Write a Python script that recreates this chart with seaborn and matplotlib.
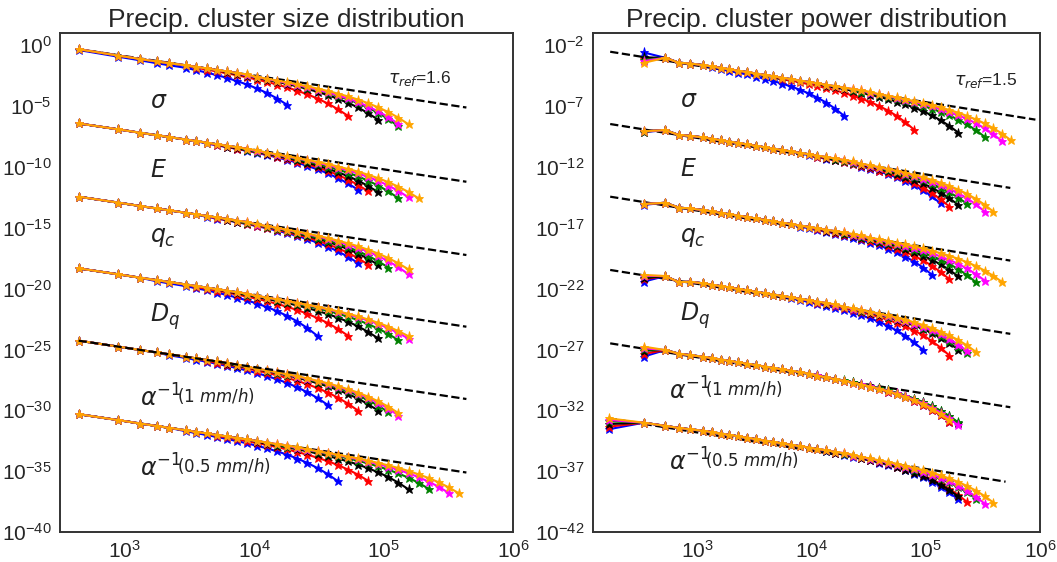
import numpy as np
import pandas as pd
import matplotlib
matplotlib.use("Agg")
import matplotlib.pyplot as plt
import seaborn as sns
from matplotlib.ticker import FixedLocator, FuncFormatter, NullLocator

sns.set_style("white")
plt.rcParams["font.family"] = ["Liberation Sans", "DejaVu Sans"]
plt.rcParams["mathtext.fontset"] = "dejavusans"

# ---------------- data ----------------
colors = ["blue", "red", "black", "green", "magenta", "orange"]
tau_size = 1.6
tau_power = 1.5

# cluster size bins (x of left panel)
size_bins = [440, 880, 1320, 1760, 2200, 2990, 3580, 4290, 5130, 6140, 7350, 8790,
             10500, 12600, 15100, 18000, 21600, 25800, 30900, 37000, 44300, 53000,
             63400, 75900, 90800, 109000, 130000, 156000, 186000, 223000, 267000,
             319000, 382000]
# cluster power bins (x of right panel); a05 group has one extra leading bin
power_bins = [342, 528, 692, 873, 1130, 1350, 1610, 1920, 2290, 2740, 3270, 3900,
              4660, 5560, 6640, 7930, 9460, 11300, 13500, 16100, 19200, 23000, 27400,
              32700, 39100, 46700, 55700, 66500, 79400, 94800, 113000, 135000, 161000,
              193000, 230000, 275000, 328000, 392000, 468000, 558000]
power_bin_a05_first = 169

# ---- left panel: log10 of common body of each group ----
L_body_sigma = [-0.33, -0.85, -1.14, -1.34, -1.48, -1.66, -1.79, -1.91, -2.04, -2.16, -2.29, -2.41, -2.54, -2.66,
                -2.79, -2.91, -3.04, -3.16, -3.29, -3.41, -3.54, -3.66, -3.78, -3.91, -4.03, -4.16, -4.28, -4.41]
L_body_E = [-6.43, -6.91, -7.20, -7.40, -7.55, -7.76, -7.89, -8.01, -8.14, -8.26, -8.39, -8.51, -8.64, -8.76,
            -8.89, -9.01, -9.14, -9.26, -9.39, -9.51, -9.64, -9.76, -9.88, -10.01, -10.13, -10.26, -10.38, -10.51,
            -10.63]
L_body_qc = [-12.45, -12.93, -13.22, -13.42, -13.57, -13.78, -13.91, -14.03, -14.16, -14.28, -14.41, -14.53,
             -14.66, -14.78, -14.91, -15.03, -15.16, -15.28, -15.41, -15.53, -15.66, -15.78, -15.90, -16.03,
             -16.15, -16.28, -16.40, -16.53]
L_body_Dq = [-18.34, -18.82, -19.11, -19.31, -19.46, -19.67, -19.80, -19.92, -20.05, -20.17, -20.30, -20.42,
             -20.55, -20.67, -20.80, -20.92, -21.05, -21.17, -21.30, -21.42, -21.55, -21.67, -21.79, -21.92,
             -22.04, -22.17, -22.29, -22.42]
L_body_a1 = [-24.28, -24.76, -25.05, -25.25, -25.40, -25.61, -25.74, -25.86, -25.99, -26.11, -26.24, -26.36,
             -26.49, -26.61, -26.74, -26.86, -26.99, -27.11, -27.24, -27.36, -27.49, -27.61, -27.73, -27.86,
             -27.98, -28.11, -28.23]
L_body_a05 = [-30.32, -30.80, -31.09, -31.29, -31.44, -31.65, -31.78, -31.90, -32.03, -32.15, -32.28, -32.40,
              -32.53, -32.65, -32.78, -32.90, -33.03, -33.15, -33.28, -33.40, -33.53, -33.65, -33.77, -33.90,
              -34.02, -34.15, -34.27, -34.40, -34.52, -34.65, -34.77, -34.90, -35.02]

# last bin index of each colour (blue, red, black, green, magenta, orange)
L_end_sigma = [15, 21, 24, 26, 26, 27]
L_end_E = [22, 23, 24, 26, 27, 28]
L_end_qc = [22, 23, 24, 25, 27, 27]
L_end_Dq = [18, 21, 24, 26, 27, 27]
L_end_a1 = [19, 22, 24, 25, 26, 26]
L_end_a05 = [20, 23, 27, 29, 31, 32]

# drop (decades) below the body over the last 16 points of each colour
L_drop_sigma = [
    [0.07, 0.09, 0.11, 0.14, 0.17, 0.21, 0.27, 0.34, 0.42, 0.52, 0.66, 0.82, 1.02, 1.28, 1.60, 2.00],
    [0.08, 0.09, 0.12, 0.15, 0.18, 0.23, 0.29, 0.36, 0.45, 0.56, 0.71, 0.88, 1.10, 1.38, 1.72, 2.15],
    [0.07, 0.09, 0.12, 0.14, 0.18, 0.22, 0.28, 0.35, 0.44, 0.55, 0.69, 0.86, 1.08, 1.34, 1.68, 2.10],
    [0.08, 0.11, 0.13, 0.17, 0.21, 0.26, 0.32, 0.40, 0.50, 0.63, 0.79, 0.98, 1.23, 1.54, 1.92, 2.40],
    [0.08, 0.10, 0.12, 0.15, 0.19, 0.24, 0.29, 0.37, 0.46, 0.58, 0.72, 0.90, 1.13, 1.41, 1.76, 2.20],
    [0.07, 0.09, 0.12, 0.14, 0.18, 0.22, 0.28, 0.35, 0.44, 0.55, 0.69, 0.86, 1.08, 1.34, 1.68, 2.10]]
L_drop_E = [
    [0.07, 0.09, 0.11, 0.14, 0.17, 0.21, 0.27, 0.34, 0.42, 0.52, 0.66, 0.82, 1.02, 1.28, 1.60, 2.00],
    [0.07, 0.09, 0.11, 0.14, 0.17, 0.21, 0.27, 0.34, 0.42, 0.52, 0.66, 0.82, 1.02, 1.28, 1.60, 2.00],
    [0.07, 0.09, 0.11, 0.13, 0.17, 0.21, 0.26, 0.33, 0.41, 0.51, 0.64, 0.80, 1.00, 1.25, 1.56, 1.95],
    [0.08, 0.10, 0.12, 0.15, 0.19, 0.24, 0.29, 0.37, 0.46, 0.58, 0.72, 0.90, 1.13, 1.41, 1.76, 2.20],
    [0.07, 0.09, 0.11, 0.14, 0.17, 0.21, 0.27, 0.34, 0.42, 0.52, 0.66, 0.82, 1.02, 1.28, 1.60, 2.00],
    [0.07, 0.09, 0.11, 0.13, 0.17, 0.21, 0.26, 0.33, 0.41, 0.51, 0.64, 0.80, 1.00, 1.25, 1.56, 1.95]]
L_drop_qc = [
    [0.07, 0.09, 0.11, 0.14, 0.17, 0.21, 0.27, 0.34, 0.42, 0.52, 0.66, 0.82, 1.02, 1.28, 1.60, 2.00],
    [0.07, 0.09, 0.11, 0.14, 0.17, 0.21, 0.27, 0.34, 0.42, 0.52, 0.66, 0.82, 1.02, 1.28, 1.60, 2.00],
    [0.07, 0.08, 0.10, 0.13, 0.16, 0.20, 0.25, 0.32, 0.40, 0.50, 0.62, 0.78, 0.97, 1.22, 1.52, 1.90],
    [0.07, 0.09, 0.11, 0.14, 0.17, 0.21, 0.27, 0.34, 0.42, 0.52, 0.66, 0.82, 1.02, 1.28, 1.60, 2.00],
    [0.08, 0.10, 0.13, 0.16, 0.20, 0.25, 0.31, 0.39, 0.48, 0.60, 0.75, 0.94, 1.18, 1.47, 1.84, 2.30],
    [0.07, 0.08, 0.10, 0.13, 0.16, 0.20, 0.25, 0.32, 0.40, 0.50, 0.62, 0.78, 0.97, 1.22, 1.52, 1.90]]
L_drop_Dq = [
    [0.09, 0.11, 0.14, 0.18, 0.22, 0.28, 0.35, 0.44, 0.55, 0.68, 0.85, 1.07, 1.33, 1.66, 2.08, 2.60],
    [0.08, 0.10, 0.12, 0.15, 0.19, 0.24, 0.29, 0.37, 0.46, 0.58, 0.72, 0.90, 1.13, 1.41, 1.76, 2.20],
    [0.07, 0.09, 0.11, 0.14, 0.18, 0.22, 0.27, 0.34, 0.43, 0.54, 0.67, 0.84, 1.05, 1.31, 1.64, 2.05],
    [0.07, 0.09, 0.11, 0.13, 0.17, 0.21, 0.26, 0.33, 0.41, 0.51, 0.64, 0.80, 1.00, 1.25, 1.56, 1.95],
    [0.06, 0.07, 0.09, 0.12, 0.15, 0.18, 0.23, 0.29, 0.36, 0.45, 0.56, 0.70, 0.87, 1.09, 1.36, 1.70],
    [0.05, 0.07, 0.08, 0.10, 0.13, 0.16, 0.20, 0.25, 0.32, 0.39, 0.49, 0.62, 0.77, 0.96, 1.20, 1.50]]
L_drop_a1 = [
    [0.08, 0.10, 0.12, 0.15, 0.19, 0.24, 0.29, 0.37, 0.46, 0.58, 0.72, 0.90, 1.13, 1.41, 1.76, 2.20],
    [0.08, 0.10, 0.13, 0.16, 0.20, 0.25, 0.31, 0.39, 0.48, 0.60, 0.75, 0.94, 1.18, 1.47, 1.84, 2.30],
    [0.07, 0.09, 0.11, 0.14, 0.18, 0.22, 0.27, 0.34, 0.43, 0.54, 0.67, 0.84, 1.05, 1.31, 1.64, 2.05],
    [0.07, 0.09, 0.11, 0.14, 0.18, 0.22, 0.27, 0.34, 0.43, 0.54, 0.67, 0.84, 1.05, 1.31, 1.64, 2.05],
    [0.08, 0.10, 0.12, 0.15, 0.19, 0.24, 0.29, 0.37, 0.46, 0.58, 0.72, 0.90, 1.13, 1.41, 1.76, 2.20],
    [0.07, 0.09, 0.11, 0.14, 0.17, 0.21, 0.27, 0.34, 0.42, 0.52, 0.66, 0.82, 1.02, 1.28, 1.60, 2.00]]
L_drop_a05 = [
    [0.08, 0.10, 0.13, 0.16, 0.20, 0.25, 0.31, 0.39, 0.48, 0.60, 0.75, 0.94, 1.18, 1.47, 1.84, 2.30],
    [0.07, 0.08, 0.10, 0.13, 0.16, 0.20, 0.25, 0.32, 0.40, 0.50, 0.62, 0.78, 0.97, 1.22, 1.52, 1.90],
    [0.07, 0.09, 0.12, 0.14, 0.18, 0.22, 0.28, 0.35, 0.44, 0.55, 0.69, 0.86, 1.08, 1.34, 1.68, 2.10],
    [0.06, 0.08, 0.10, 0.12, 0.15, 0.19, 0.24, 0.30, 0.38, 0.47, 0.59, 0.74, 0.92, 1.15, 1.44, 1.80],
    [0.07, 0.08, 0.10, 0.13, 0.16, 0.20, 0.25, 0.32, 0.40, 0.50, 0.62, 0.78, 0.97, 1.22, 1.52, 1.90],
    [0.06, 0.08, 0.10, 0.12, 0.15, 0.19, 0.24, 0.30, 0.38, 0.47, 0.59, 0.74, 0.92, 1.15, 1.44, 1.80]]

# ---- right panel ----
R_body_sigma = [-2.98, -3.04, -3.44, -3.51, -3.64, -3.75, -3.87, -3.98, -4.10, -4.21, -4.33, -4.45, -4.56, -4.68,
                -4.79, -4.91, -5.02, -5.14, -5.25, -5.37, -5.48, -5.60, -5.72, -5.83, -5.95, -6.06, -6.18, -6.29,
                -6.41, -6.52, -6.64, -6.76, -6.87, -6.99, -7.10, -7.22, -7.33, -7.45, -7.56, -7.68]
R_body_E = [-8.92, -8.98, -9.38, -9.45, -9.58, -9.69, -9.81, -9.92, -10.04, -10.15, -10.27, -10.39, -10.50,
            -10.62, -10.73, -10.85, -10.96, -11.08, -11.19, -11.31, -11.42, -11.54, -11.66, -11.77, -11.89,
            -12.00, -12.12, -12.23, -12.35, -12.46, -12.58, -12.70, -12.81, -12.93, -13.04, -13.16, -13.27, -13.39]
R_body_qc = [-14.89, -14.95, -15.35, -15.42, -15.55, -15.66, -15.78, -15.89, -16.01, -16.12, -16.24, -16.36,
             -16.47, -16.59, -16.70, -16.82, -16.93, -17.05, -17.16, -17.28, -17.39, -17.51, -17.63, -17.74,
             -17.86, -17.97, -18.09, -18.20, -18.32, -18.43, -18.55, -18.67, -18.78, -18.90, -19.01, -19.13,
             -19.24, -19.36, -19.47]
R_body_Dq = [-20.91, -20.97, -21.47, -21.44, -21.57, -21.68, -21.80, -21.91, -22.03, -22.14, -22.26, -22.38,
             -22.49, -22.61, -22.72, -22.84, -22.95, -23.07, -23.18, -23.30, -23.41, -23.53, -23.65, -23.76,
             -23.88, -23.99, -24.11, -24.22, -24.34, -24.45, -24.57, -24.69, -24.80, -24.92, -25.03, -25.15]
R_body_a1 = [-26.94, -27.05, -27.35, -27.47, -27.60, -27.71, -27.83, -27.94, -28.06, -28.17, -28.29, -28.41,
             -28.52, -28.64, -28.75, -28.87, -28.98, -29.10, -29.21, -29.33, -29.44, -29.56, -29.68, -29.79,
             -29.91, -30.02, -30.14, -30.25, -30.37, -30.48, -30.60, -30.72, -30.83, -30.95]
R_body_a05 = [-33.02, -33.28, -33.45, -33.56, -33.68, -33.79, -33.91, -34.02, -34.14, -34.25, -34.37, -34.49,
              -34.60, -34.72, -34.83, -34.95, -35.06, -35.18, -35.29, -35.41, -35.52, -35.64, -35.76, -35.87,
              -35.99, -36.10, -36.22, -36.33, -36.45, -36.56, -36.68, -36.80, -36.91, -37.03, -37.14, -37.26,
              -37.37, -37.49]

# first point of each colour (log10)
R_first_sigma = [-2.60, -3.10, -3.00, -3.20, -3.30, -3.45]
R_first_E = [-9.15, -9.10, -9.05, -9.10, -9.08, -9.07]
R_first_qc = [-15.12, -15.08, -15.05, -15.06, -15.05, -15.05]
R_first_Dq = [-21.43, -21.24, -21.15, -21.00, -20.95, -20.88]
R_first_a1 = [-27.59, -27.37, -27.10, -27.00, -26.90, -26.77]
R_first_a05 = [-33.56, -33.35, -33.13, -32.90, -32.80, -32.66]

R_end_sigma = [20, 28, 33, 36, 38, 39]
R_end_E = [31, 32, 33, 34, 36, 37]
R_end_qc = [30, 32, 33, 35, 36, 38]
R_end_Dq = [29, 32, 33, 34, 34, 35]
R_end_a1 = [32, 32, 33, 33, 33, 32]
R_end_a05 = [33, 34, 33, 35, 36, 37]

R_drop_sigma = [
    [0.08, 0.10, 0.13, 0.16, 0.20, 0.25, 0.31, 0.39, 0.48, 0.60, 0.75, 0.94, 1.18, 1.47, 1.84, 2.30],
    [0.09, 0.11, 0.14, 0.18, 0.22, 0.27, 0.34, 0.43, 0.54, 0.67, 0.84, 1.05, 1.31, 1.63, 2.04, 2.55],
    [0.08, 0.10, 0.12, 0.15, 0.19, 0.24, 0.29, 0.37, 0.46, 0.58, 0.72, 0.90, 1.13, 1.41, 1.76, 2.20],
    [0.08, 0.10, 0.12, 0.15, 0.19, 0.24, 0.29, 0.37, 0.46, 0.58, 0.72, 0.90, 1.13, 1.41, 1.76, 2.20],
    [0.08, 0.10, 0.13, 0.16, 0.20, 0.25, 0.31, 0.39, 0.49, 0.62, 0.77, 0.96, 1.20, 1.50, 1.88, 2.35],
    [0.08, 0.09, 0.12, 0.15, 0.18, 0.23, 0.29, 0.36, 0.45, 0.56, 0.71, 0.88, 1.10, 1.38, 1.72, 2.15]]
R_drop_E = [
    [0.08, 0.10, 0.13, 0.16, 0.20, 0.25, 0.31, 0.39, 0.48, 0.60, 0.75, 0.94, 1.18, 1.47, 1.84, 2.30],
    [0.09, 0.11, 0.13, 0.17, 0.21, 0.26, 0.33, 0.41, 0.51, 0.64, 0.80, 1.00, 1.25, 1.57, 1.96, 2.45],
    [0.08, 0.10, 0.12, 0.15, 0.19, 0.24, 0.29, 0.37, 0.46, 0.58, 0.72, 0.90, 1.13, 1.41, 1.76, 2.20],
    [0.07, 0.09, 0.11, 0.14, 0.17, 0.21, 0.27, 0.34, 0.42, 0.52, 0.66, 0.82, 1.02, 1.28, 1.60, 2.00],
    [0.08, 0.11, 0.13, 0.17, 0.21, 0.26, 0.32, 0.40, 0.50, 0.63, 0.79, 0.98, 1.23, 1.54, 1.92, 2.40],
    [0.08, 0.10, 0.13, 0.16, 0.20, 0.25, 0.31, 0.39, 0.48, 0.60, 0.75, 0.94, 1.18, 1.47, 1.84, 2.30]]
R_drop_qc = [
    [0.08, 0.10, 0.13, 0.16, 0.20, 0.25, 0.31, 0.39, 0.48, 0.60, 0.75, 0.94, 1.18, 1.47, 1.84, 2.30],
    [0.09, 0.11, 0.13, 0.17, 0.21, 0.26, 0.33, 0.41, 0.51, 0.64, 0.80, 1.00, 1.25, 1.57, 1.96, 2.45],
    [0.07, 0.09, 0.12, 0.14, 0.18, 0.22, 0.28, 0.35, 0.44, 0.55, 0.69, 0.86, 1.08, 1.34, 1.68, 2.10],
    [0.08, 0.10, 0.13, 0.16, 0.20, 0.25, 0.31, 0.39, 0.49, 0.62, 0.77, 0.96, 1.20, 1.50, 1.88, 2.35],
    [0.07, 0.09, 0.12, 0.14, 0.18, 0.22, 0.28, 0.35, 0.44, 0.55, 0.69, 0.86, 1.08, 1.34, 1.68, 2.10],
    [0.07, 0.09, 0.11, 0.14, 0.17, 0.21, 0.27, 0.34, 0.42, 0.52, 0.66, 0.82, 1.02, 1.28, 1.60, 2.00]]
R_drop_Dq = [
    [0.09, 0.11, 0.14, 0.18, 0.22, 0.28, 0.35, 0.44, 0.55, 0.68, 0.85, 1.07, 1.33, 1.66, 2.08, 2.60],
    [0.09, 0.12, 0.15, 0.19, 0.23, 0.29, 0.36, 0.45, 0.57, 0.71, 0.89, 1.11, 1.38, 1.73, 2.16, 2.70],
    [0.07, 0.09, 0.12, 0.14, 0.18, 0.22, 0.28, 0.35, 0.44, 0.55, 0.69, 0.86, 1.08, 1.34, 1.68, 2.10],
    [0.08, 0.10, 0.13, 0.16, 0.20, 0.25, 0.31, 0.39, 0.48, 0.60, 0.75, 0.94, 1.18, 1.47, 1.84, 2.30],
    [0.07, 0.09, 0.12, 0.14, 0.18, 0.22, 0.28, 0.35, 0.44, 0.55, 0.69, 0.86, 1.08, 1.34, 1.68, 2.10],
    [0.07, 0.09, 0.11, 0.14, 0.18, 0.22, 0.27, 0.34, 0.43, 0.54, 0.67, 0.84, 1.05, 1.31, 1.64, 2.05]]
R_drop_a1 = [
    [0.07, 0.09, 0.12, 0.14, 0.18, 0.22, 0.28, 0.35, 0.44, 0.55, 0.69, 0.86, 1.08, 1.34, 1.68, 2.10],
    [0.07, 0.09, 0.12, 0.14, 0.18, 0.22, 0.28, 0.35, 0.44, 0.55, 0.69, 0.86, 1.08, 1.34, 1.68, 2.10],
    [0.07, 0.09, 0.12, 0.14, 0.18, 0.22, 0.28, 0.35, 0.44, 0.55, 0.69, 0.86, 1.08, 1.34, 1.68, 2.10],
    [0.07, 0.09, 0.11, 0.14, 0.18, 0.22, 0.27, 0.34, 0.43, 0.54, 0.67, 0.84, 1.05, 1.31, 1.64, 2.05],
    [0.08, 0.10, 0.13, 0.16, 0.20, 0.25, 0.31, 0.39, 0.48, 0.60, 0.75, 0.94, 1.18, 1.47, 1.84, 2.30],
    [0.07, 0.09, 0.11, 0.14, 0.17, 0.21, 0.27, 0.34, 0.42, 0.52, 0.66, 0.82, 1.02, 1.28, 1.60, 2.00]]
R_drop_a05 = [
    [0.08, 0.10, 0.13, 0.16, 0.20, 0.25, 0.31, 0.39, 0.48, 0.60, 0.75, 0.94, 1.18, 1.47, 1.84, 2.30],
    [0.08, 0.11, 0.13, 0.17, 0.21, 0.26, 0.32, 0.40, 0.50, 0.63, 0.79, 0.98, 1.23, 1.54, 1.92, 2.40],
    [0.07, 0.09, 0.11, 0.14, 0.18, 0.22, 0.27, 0.34, 0.43, 0.54, 0.67, 0.84, 1.05, 1.31, 1.64, 2.05],
    [0.07, 0.09, 0.11, 0.14, 0.17, 0.21, 0.27, 0.34, 0.42, 0.52, 0.66, 0.82, 1.02, 1.28, 1.60, 2.00],
    [0.08, 0.10, 0.13, 0.16, 0.20, 0.25, 0.31, 0.39, 0.48, 0.60, 0.75, 0.94, 1.18, 1.47, 1.84, 2.30],
    [0.07, 0.09, 0.12, 0.14, 0.18, 0.22, 0.28, 0.35, 0.44, 0.55, 0.69, 0.86, 1.08, 1.34, 1.68, 2.10]]

# reference power laws (dashed): anchor log10 value and x extent
L_ref_x = [440, 436000]
R_ref_anchor = [-2.54, -8.48, -14.45, -20.47, -26.50, -32.66]
R_ref_x0 = [174, 174, 174, 174, 174, 169]
R_ref_x1 = [912000, 550000, 550000, 550000, 550000, 500000]

# ---------------- assemble ----------------
def assemble(bins, body, ends, drops, name, first=None, pre_bin=None):
    rows = []
    for c, e, d, k in zip(colors, ends, drops, range(6)):
        y = np.array(body[:e + 1], float)
        y[-len(d):] -= np.array(d)
        x = list(bins[:e + 1])
        y = list(y)
        if first is not None:
            if pre_bin is None:
                y[0] = first[k]
            else:
                x = [pre_bin] + x
                y = [first[k]] + y
        for xi, yi in zip(x, y):
            rows.append((xi, 10.0 ** yi, c, name + "_" + c))
    return rows

left_rows = []
left_rows += assemble(size_bins, L_body_sigma, L_end_sigma, L_drop_sigma, "sigma")
left_rows += assemble(size_bins, L_body_E, L_end_E, L_drop_E, "E")
left_rows += assemble(size_bins, L_body_qc, L_end_qc, L_drop_qc, "qc")
left_rows += assemble(size_bins, L_body_Dq, L_end_Dq, L_drop_Dq, "Dq")
left_rows += assemble(size_bins, L_body_a1, L_end_a1, L_drop_a1, "a1")
left_rows += assemble(size_bins, L_body_a05, L_end_a05, L_drop_a05, "a05")
dfL = pd.DataFrame(left_rows, columns=["x", "y", "color", "unit"])

right_rows = []
right_rows += assemble(power_bins, R_body_sigma, R_end_sigma, R_drop_sigma, "sigma", R_first_sigma)
right_rows += assemble(power_bins, R_body_E, R_end_E, R_drop_E, "E", R_first_E)
right_rows += assemble(power_bins, R_body_qc, R_end_qc, R_drop_qc, "qc", R_first_qc)
right_rows += assemble(power_bins, R_body_Dq, R_end_Dq, R_drop_Dq, "Dq", R_first_Dq)
right_rows += assemble(power_bins, R_body_a1, R_end_a1, R_drop_a1, "a1", R_first_a1)
right_rows += assemble(power_bins, R_body_a05, R_end_a05, R_drop_a05, "a05", R_first_a05,
                       pre_bin=power_bin_a05_first)
dfR = pd.DataFrame(right_rows, columns=["x", "y", "color", "unit"])

# ---------------- plot ----------------
fig = plt.figure(figsize=(10.57, 5.62), dpi=100)
axL = fig.add_axes([0.0568, 0.0534, 0.4286, 0.8879])
axR = fig.add_axes([0.5610, 0.0534, 0.4229, 0.8879])

for ax in (axL, axR):
    ax.set_xscale("log")
    ax.set_yscale("log")

pal = {c: c for c in colors}
for ax, df in ((axL, dfL), (axR, dfR)):
    sns.lineplot(data=df, x="x", y="y", hue="color", hue_order=colors, palette=pal,
                 units="unit", estimator=None, sort=False, marker="*", markersize=6.5,
                 markeredgewidth=0.6, linewidth=1.5, legend=False, ax=ax)
    for ln in ax.lines:
        ln.set_markeredgecolor(ln.get_color())

# dashed reference lines
left_bodies = [L_body_sigma, L_body_E, L_body_qc, L_body_Dq, L_body_a1, L_body_a05]
for gi, b in enumerate(left_bodies):
    xr = np.array(L_ref_x, float)
    yr = 10.0 ** b[0] * (xr / xr[0]) ** (-tau_size)
    axL.plot(xr, yr, ls="--", color="black", lw=1.6, zorder=3 if gi == 4 else 1.5)
for gi in range(6):
    xr = np.array([R_ref_x0[gi], R_ref_x1[gi]], float)
    yr = 10.0 ** R_ref_anchor[gi] * (xr / xr[0]) ** (-tau_power)
    axR.plot(xr, yr, ls="--", color="black", lw=1.6, zorder=1.5)

fmt = FuncFormatter(lambda v, p: r"$\mathregular{10^{%d}}$" % int(round(np.log10(v))))
axL.set_xlim(10 ** 2.5, 1e6)
axL.set_ylim(1e-40, 1e1)
axR.set_xlim(10 ** 2.09, 1e6)
axR.set_ylim(1e-42, 1e-1)
axL.yaxis.set_major_locator(FixedLocator(10.0 ** np.arange(0, -41, -5)))
axR.yaxis.set_major_locator(FixedLocator(10.0 ** np.arange(-2, -43, -5)))
for ax in (axL, axR):
    ax.xaxis.set_major_locator(FixedLocator([1e3, 1e4, 1e5, 1e6]))
    ax.xaxis.set_minor_locator(NullLocator())
    ax.yaxis.set_minor_locator(NullLocator())
    ax.xaxis.set_major_formatter(fmt)
    ax.yaxis.set_major_formatter(fmt)
    ax.tick_params(axis="both", length=0, labelsize=15, colors="#262626")
    ax.tick_params(axis="x", pad=6)
    ax.tick_params(axis="y", pad=6)
    ax.set_xlabel("")
    ax.set_ylabel("")
    for s in ax.spines.values():
        s.set_color("#333333")
        s.set_linewidth(1.4)

axL.set_title("Precip. cluster size distribution", fontsize=19, pad=4, color="#262626")
axR.set_title("Precip. cluster power distribution", fontsize=19, pad=4, color="#262626")

tc = "#222222"
def labels(ax, xs, xa, xb, ys, tau_text, tau_pos):
    names = [r"$\sigma$", r"$E$", r"$q_c$", r"$D_q$"]
    for n, yy in zip(names, ys[:4]):
        ax.text(xs, yy, n, transform=ax.transAxes, fontsize=17, color=tc,
                family="DejaVu Sans", ha="left", va="baseline")
    for sub, yy in zip(["(1 $mm/h$)", "(0.5 $mm/h$)"], ys[4:]):
        ax.text(xa, yy, r"$\alpha^{-1}$", transform=ax.transAxes, fontsize=17, color=tc,
                family="DejaVu Sans", ha="left", va="baseline")
        ax.text(xb, yy + 0.009, sub, transform=ax.transAxes, fontsize=12, color=tc,
                family="DejaVu Sans", ha="left", va="baseline")
    ax.text(tau_pos[0], tau_pos[1], tau_text, transform=ax.transAxes, fontsize=12.5,
            color=tc, ha="left", va="baseline")

labels(axL, 0.199, 0.177, 0.258, [0.850, 0.712, 0.582, 0.421, 0.251, 0.112],
       r"$\tau_{ref}$=1.6", (0.725, 0.899))
labels(axR, 0.194, 0.169, 0.251, [0.852, 0.713, 0.582, 0.423, 0.266, 0.124],
       r"$\tau_{ref}$=1.5", (0.807, 0.896))

fig.savefig("out.png", dpi=100)
